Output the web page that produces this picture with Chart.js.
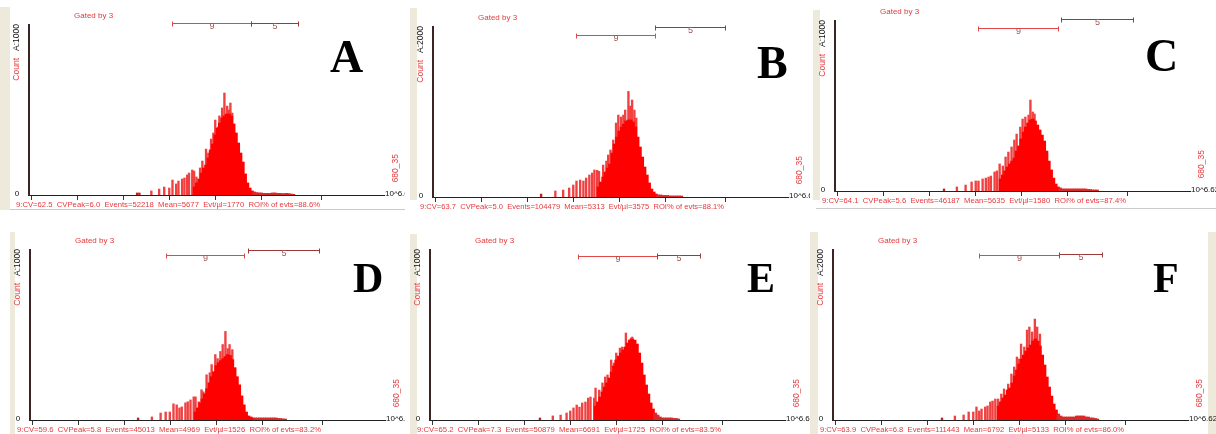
<!DOCTYPE html>
<html>
<head>
<meta charset="utf-8">
<script src="https://cdn.jsdelivr.net/npm/chart.js@4.4.1/dist/chart.umd.min.js"></script>
<style>
  html, body { margin: 0; padding: 0; background: #fff; }
  #wrap { position: relative; width: 1216px; height: 434px; overflow: hidden; background: #fff; }
  canvas { position: absolute; }
  .strip { position: absolute; background: #eeeadb; }
  .rule { position: absolute; height: 1px; background: #cacaca; }
</style>
</head>
<body>
<div id="wrap">
  <div class="strip" style="left:0;top:7px;width:10px;height:203px"></div>
  <div class="strip" style="left:410px;top:8px;width:7px;height:192px"></div>
  <div class="strip" style="left:813px;top:10px;width:7px;height:190px"></div>
  <div class="strip" style="left:10px;top:232px;width:5px;height:202px"></div>
  <div class="strip" style="left:410px;top:234px;width:7px;height:200px"></div>
  <div class="strip" style="left:810px;top:232px;width:8px;height:202px"></div>
  <div class="strip" style="left:1208px;top:232px;width:8px;height:202px"></div>
  <div class="rule" style="left:10px;top:209px;width:395px"></div>
  <div class="rule" style="left:816px;top:208px;width:400px"></div>
</div>
<script>
// x values are in decades (axis runs 0 .. 10^6.62), y values are counts
var binStart = 3.05;
var binWidth = 0.05;
var yMax = [1000, 2000, 1000, 1000, 1000, 2000];

var spikeX_A = [1.80, 1.85, 2.11, 2.28, 2.39, 2.50, 2.57, 2.65, 2.70, 2.78, 2.83, 2.89, 2.93, 3.00, 3.04, 3.09, 3.17, 3.22, 3.30, 3.35, 3.41, 3.46, 3.50, 3.56, 3.59, 3.65, 3.70, 3.76, 3.80, 3.83, 3.87];
var spikeY_A = [12, 12, 24, 35, 47, 41, 88, 65, 82, 94, 100, 118, 129, 147, 141, 106, 159, 200, 270, 247, 329, 365, 441, 400, 465, 512, 600, 523, 500, 541, 482];
var bodyY_A = [47, 71, 94, 129, 159, 176, 218, 265, 300, 353, 394, 423, 453, 465, 476, 476, 465, 418, 365, 306, 247, 194, 124, 71, 41, 24, 18, 14, 12, 12, 10, 10, 10, 10, 12, 12, 10, 10, 8, 8, 10, 8, 6, 4];

var spikeX_B = [1.80, 2.11, 2.28, 2.41, 2.50, 2.57, 2.65, 2.72, 2.78, 2.85, 2.91, 2.96, 3.02, 3.06, 3.15, 3.22, 3.26, 3.31, 3.37, 3.43, 3.48, 3.54, 3.59, 3.63, 3.70, 3.74, 3.78, 3.83, 3.87];
var spikeY_B = [35, 71, 82, 106, 141, 188, 200, 188, 223, 259, 282, 318, 314, 302, 376, 423, 494, 553, 670, 870, 964, 941, 964, 1023, 1242, 1070, 1141, 1023, 929];
var bodyY_B = [118, 176, 235, 294, 341, 388, 517, 623, 705, 776, 823, 858, 894, 906, 906, 882, 823, 705, 588, 470, 353, 259, 165, 94, 59, 35, 24, 24, 18, 18, 18, 12, 12, 12, 12, 12, 12];

var spikeX_C = [1.82, 2.10, 2.29, 2.42, 2.51, 2.57, 2.66, 2.73, 2.79, 2.84, 2.92, 2.97, 3.03, 3.10, 3.16, 3.22, 3.29, 3.35, 3.40, 3.48, 3.53, 3.59, 3.66, 3.70, 3.75, 3.79, 3.85];
var spikeY_C = [12, 24, 35, 53, 59, 59, 71, 76, 82, 88, 112, 118, 159, 147, 200, 229, 259, 300, 335, 376, 423, 435, 447, 535, 465, 453, 376];
var bodyY_C = [71, 94, 118, 141, 159, 176, 194, 235, 265, 306, 347, 376, 400, 418, 423, 412, 388, 359, 329, 294, 235, 176, 124, 76, 41, 24, 18, 12, 12, 12, 12, 12, 12, 12, 12, 12, 12, 12, 9, 9, 6, 6, 6];

var spikeX_D = [1.80, 2.10, 2.29, 2.40, 2.49, 2.57, 2.64, 2.70, 2.75, 2.83, 2.88, 2.94, 3.01, 3.05, 3.12, 3.18, 3.22, 3.29, 3.36, 3.40, 3.48, 3.53, 3.59, 3.64, 3.70, 3.75, 3.79, 3.85];
var spikeY_D = [12, 18, 41, 47, 47, 95, 89, 71, 77, 101, 107, 118, 136, 136, 107, 178, 166, 266, 278, 326, 385, 361, 403, 444, 521, 420, 444, 414];
var bodyY_D = [47, 71, 101, 124, 154, 184, 219, 255, 284, 320, 337, 349, 361, 373, 385, 379, 355, 308, 255, 207, 142, 89, 47, 24, 18, 12, 12, 12, 12, 12, 12, 12, 12, 12, 12, 12, 9, 9, 6, 6];

var spikeX_E = [1.84, 2.12, 2.29, 2.42, 2.50, 2.57, 2.64, 2.70, 2.76, 2.83, 2.89, 2.94, 3.02, 3.05, 3.13, 3.20, 3.26, 3.31, 3.39, 3.45, 3.50, 3.58, 3.63, 3.71, 3.78, 3.82, 3.85];
var spikeY_E = [12, 24, 29, 41, 53, 71, 88, 76, 100, 106, 129, 135, 129, 188, 176, 218, 253, 265, 353, 335, 394, 423, 429, 512, 470, 482, 488];
var bodyY_E = [82, 106, 135, 165, 194, 218, 247, 282, 318, 353, 376, 394, 412, 429, 453, 470, 476, 470, 447, 394, 335, 265, 206, 153, 100, 65, 41, 29, 18, 12, 12, 12, 12, 12, 9, 9, 6];

var spikeX_F = [1.82, 2.10, 2.29, 2.40, 2.50, 2.57, 2.63, 2.68, 2.76, 2.81, 2.87, 2.92, 2.98, 3.04, 3.11, 3.17, 3.26, 3.33, 3.39, 3.45, 3.50, 3.54, 3.61, 3.67, 3.72, 3.78, 3.84, 3.89, 3.95];
var spikeY_F = [24, 47, 59, 94, 94, 153, 106, 129, 153, 165, 212, 223, 247, 247, 306, 365, 423, 541, 623, 741, 717, 894, 858, 1058, 1094, 1035, 1188, 1094, 1011];
var bodyY_F = [165, 212, 259, 294, 353, 376, 435, 517, 588, 659, 717, 764, 811, 847, 882, 929, 953, 929, 870, 764, 647, 506, 388, 282, 188, 118, 71, 47, 35, 35, 35, 35, 35, 35, 47, 47, 47, 47, 35, 35, 24, 24, 18, 12];

// gate regions "9" and "5" (decades)
var gates_A = [[2.57, 4.28], [4.28, 5.31]];
var gates_B = [[2.56, 4.28], [4.28, 5.81]];
var gates_C = [[2.57, 4.29], [4.37, 5.93]];
var gates_D = [[2.40, 4.11], [4.20, 5.74]];
var gates_E = [[2.66, 4.39], [4.39, 5.33]];
var gates_F = [[2.63, 4.36], [4.36, 5.29]];
var gateNames = ['9', '5'];

var stats = [
  '9:CV=62.5  CVPeak=6.0  Events=52218  Mean=5677  Evt/\u00b5l=1770  ROI% of evts=88.6%',
  '9:CV=63.7  CVPeak=5.0  Events=104479  Mean=5313  Evt/\u00b5l=3575  ROI% of evts=88.1%',
  '9:CV=64.1  CVPeak=5.6  Events=46187  Mean=5635  Evt/\u00b5l=1580  ROI% of evts=87.4%',
  '9:CV=59.6  CVPeak=5.8  Events=45013  Mean=4969  Evt/\u00b5l=1526  ROI% of evts=83.2%',
  '9:CV=65.2  CVPeak=7.3  Events=50879  Mean=6691  Evt/\u00b5l=1725  ROI% of evts=83.5%',
  '9:CV=63.9  CVPeak=6.8  Events=111443  Mean=6792  Evt/\u00b5l=5133  ROI% of evts=86.0%'
];

var AXIS_W = 355;
var RED_TEXT = '#e5393d';

// box = canvas rect on page, area = [axis left, axis top, baseline] on page
var panels = [
  { name: 'A', box: [0, 0, 405, 217], area: [29, 25, 195], sx: spikeX_A, sy: spikeY_A, body: bodyY_A, gates: gates_A, gateY: [-2, -2], letter: [330, 72, 46] },
  { name: 'B', box: [405, 0, 405, 217], area: [433, 27, 197], sx: spikeX_B, sy: spikeY_B, body: bodyY_B, gates: gates_B, gateY: [8, 0], letter: [352, 78, 46] },
  { name: 'C', box: [810, 0, 406, 217], area: [835, 21, 191], sx: spikeX_C, sy: spikeY_C, body: bodyY_C, gates: gates_C, gateY: [7, -2], letter: [335, 71, 46] },
  { name: 'D', box: [0, 217, 405, 217], area: [30, 250, 420], sx: spikeX_D, sy: spikeY_D, body: bodyY_D, gates: gates_D, gateY: [5, 0], letter: [353, 75, 42] },
  { name: 'E', box: [405, 217, 405, 217], area: [430, 250, 420], sx: spikeX_E, sy: spikeY_E, body: bodyY_E, gates: gates_E, gateY: [6, 5], letter: [342, 75, 42] },
  { name: 'F', box: [810, 217, 406, 217], area: [833, 250, 420], sx: spikeX_F, sy: spikeY_F, body: bodyY_F, gates: gates_F, gateY: [5, 4], letter: [343, 75, 42] }
];

function rotText(ctx, text, x, y, color) {
  ctx.save();
  ctx.translate(x, y);
  ctx.rotate(-Math.PI / 2);
  ctx.textAlign = 'right';
  ctx.fillStyle = color;
  ctx.fillText(text, 0, 0);
  ctx.restore();
}

var panelText = {
  id: 'panelText',
  afterDraw: function (chart, args, opts) {
    var p = opts.panel;
    var ctx = chart.ctx, a = chart.chartArea, xs = chart.scales.x;
    var sans = '"Liberation Sans", Arial, sans-serif';
    ctx.save();
    ctx.textBaseline = 'middle';
    ctx.font = '8px ' + sans;
    ctx.fillStyle = RED_TEXT;
    ctx.textAlign = 'left';
    ctx.fillText('Gated by 3', a.left + 45, a.top - 9);
    ctx.fillText(p.stats, a.left - 13, a.bottom + 10, 304);

    ctx.fillStyle = '#111';
    ctx.textAlign = 'center';
    ctx.fillText('0', a.left - 12, a.bottom - 1);
    ctx.textAlign = 'left';
    ctx.fillText('10^6.62', a.right + 1, a.bottom - 1);

    ctx.font = '8.5px ' + sans;
    rotText(ctx, 'A:' + p.yMax, a.left - 12, a.top - 1, '#111');
    rotText(ctx, 'Count', a.left - 12, a.top + 33, RED_TEXT);
    rotText(ctx, '680_35', a.right + 12, a.bottom - 41, RED_TEXT);

    var gateColors = ['#e04848', '#9c3a3a'];
    p.gates.forEach(function (g, i) {
      var y = Math.round(a.top + p.gateY[i]) + 0.5;
      var x1 = Math.round(xs.getPixelForValue(g[0])) + 0.5;
      var x2 = Math.round(xs.getPixelForValue(g[1])) + 0.5;
      ctx.strokeStyle = gateColors[i];
      ctx.lineWidth = 1;
      ctx.beginPath();
      ctx.moveTo(x1, y); ctx.lineTo(x2, y);
      ctx.moveTo(x1, y - 2); ctx.lineTo(x1, y + 3);
      ctx.moveTo(x2, y - 2); ctx.lineTo(x2, y + 3);
      ctx.stroke();
      ctx.fillStyle = '#a05555';
      ctx.font = '9px ' + sans;
      ctx.textAlign = 'center';
      ctx.fillText(gateNames[i], (x1 + x2) / 2, y + 3);
    });

    ctx.font = 'bold ' + p.letter[2] + 'px "Liberation Serif", "Times New Roman", serif';
    ctx.textBaseline = 'alphabetic';
    ctx.textAlign = 'left';
    ctx.fillStyle = '#000';
    ctx.fillText(p.name, p.letter[0], p.letter[1]);
    ctx.restore();
  }
};

var wrap = document.getElementById('wrap');
panels.forEach(function (p, k) {
  p.yMax = yMax[k];
  p.stats = stats[k];
  var c = document.createElement('canvas');
  c.width = p.box[2];
  c.height = p.box[3];
  c.style.left = p.box[0] + 'px';
  c.style.top = p.box[1] + 'px';
  wrap.appendChild(c);

  var padL = p.area[0] - p.box[0];
  var padT = p.area[1] - p.box[1];
  var padR = p.box[2] - padL - AXIS_W;
  var padB = p.box[3] - (p.area[2] - p.box[1]) - 5;

  var bodyPts = p.body.map(function (v, i) { return { x: binStart + i * binWidth, y: v }; });
  var spikePts = p.sx.map(function (v, i) { return { x: v, y: p.sy[i] }; });

  new Chart(c.getContext('2d'), {
    type: 'bar',
    data: {
      datasets: [
        {
          label: 'body', data: bodyPts, barThickness: 3, grouped: false,
          backgroundColor: function (ctx) {
            var r = ctx.raw;
            return r && r.x > 4.3 ? '#d92a2a' : '#ff0000';
          }
        },
        {
          label: 'spikes', data: spikePts, barThickness: 1.7, grouped: false,
          backgroundColor: function (ctx) {
            var r = ctx.raw;
            return r && r.x < 2 ? '#b82222' : '#f04040';
          }
        }
      ]
    },
    options: {
      responsive: false,
      animation: false,
      devicePixelRatio: 1,
      layout: { padding: { left: padL, top: padT, right: padR, bottom: padB } },
      plugins: {
        legend: { display: false },
        tooltip: { enabled: false },
        panelText: { panel: p }
      },
      scales: {
        x: {
          type: 'linear',
          min: 0,
          max: 6.62,
          ticks: { display: false, stepSize: 1 },
          grid: { display: true, drawOnChartArea: false, drawTicks: true, tickLength: 5, color: '#333' },
          border: { display: true, color: '#222', width: 1 }
        },
        y: {
          min: 0,
          max: p.yMax,
          ticks: { display: false },
          grid: { display: false, drawTicks: false },
          border: { display: true, color: '#3a2424', width: 2 }
        }
      }
    },
    plugins: [panelText]
  });
});
</script>
</body>
</html>
